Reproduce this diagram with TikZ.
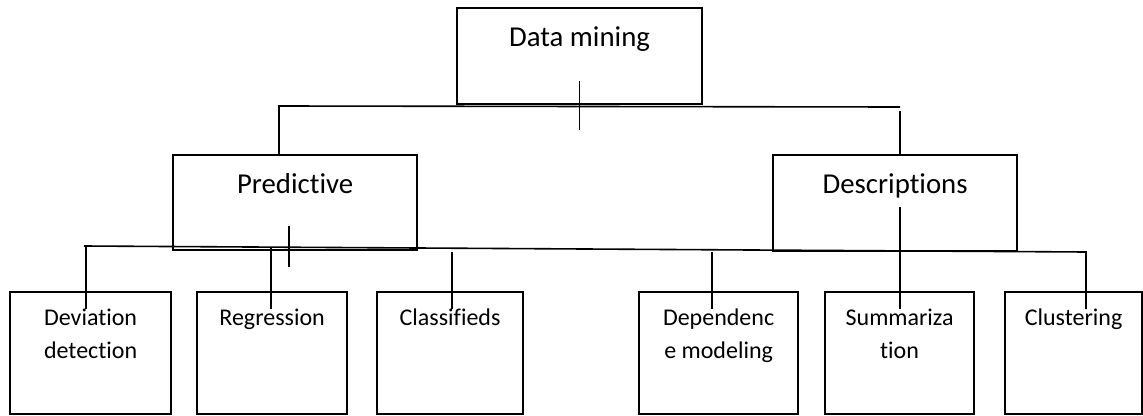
\documentclass[tikz,border=0pt]{standalone}
\usepackage{fontspec}
\setmainfont{Carlito}[Ligatures=NoCommon]
\usetikzlibrary{positioning, calc}
\tikzset{
  box/.style={draw=black, line width=2.2pt, inner sep=0pt, anchor=north west},
  leafbox/.style={box, minimum height=122pt},
  lbl/.style={font=\fontsize{28.8}{34}\selectfont, inner sep=0pt, anchor=base},
  leaflbl/.style={font=\fontsize{24}{33}\selectfont, align=center, inner sep=0pt, anchor=north},
  link/.style={line width=1.6pt, draw=black},
}

\begin{document}
\begin{tikzpicture}[x=1pt, y=-1pt]
  \useasboundingbox[fill=white] (0,0) rectangle (1143,415);

  % Boxes
  \node[box, minimum width=245pt, minimum height=96pt] (dm) at (456,7) {};
  \node[box, minimum width=244pt, minimum height=95pt] (pr) at (172,154) {};
  \node[box, minimum width=244pt, minimum height=96pt] (ds) at (772,154) {};
  \node[leafbox, minimum width=161pt] (dev) at (9,291) {};
  \node[leafbox, minimum width=150pt] (reg) at (196,291) {};
  \node[leafbox, minimum width=146pt] (cls) at (376,291) {};
  \node[leafbox, minimum width=159pt] (dep) at (638,291) {};
  \node[leafbox, minimum width=149pt] (sum) at (824,291) {};
  \node[leafbox, minimum width=137pt] (clu) at (1004,291) {};

  % Labels
  \node[lbl] (dmt) at ($(dm.north)+(0,39)$) {Data mining};
  \node[lbl] (prt) at ($(pr.north)+(0,39)$) {Predictive};
  \node[lbl] (dst) at ($(ds.north)+(0,39)$) {Descriptions};
  \node[leaflbl] (devt) at ($(dev.north)+(0,18)$) {Deviation\\detection};
  \node[leaflbl] (regt) at ($(reg.north)+(0,18)$) {Regression};
  \node[leaflbl] (clst) at ($(cls.north)+(0,18)$) {Classifieds};
  \node[leaflbl] (dept) at ($(dep.north)+(0,18)$) {Dependenc\\e modeling};
  \node[leaflbl] (sumt) at ($(sum.north)+(0,18)$) {Summariza\\tion};
  \node[leaflbl] (clut) at ($(clu.north)+(0,18)$) {Clustering};

  % Upper tree
  \coordinate (barL) at (279,106);
  \coordinate (barR) at (900,107);
  \draw[link] ($(dm.south)+(0,-24)$) -- ($(dm.south)+(0,25)$);
  \draw[link] (pr.north -| barL) -- (barL) -- (barR);
  \draw[link] ($(barR)+(0,4)$) -- (ds.north -| barR);

  % Lower tree
  \coordinate (lowL) at (84,246);
  \coordinate (lowR) at (1086,252);
  \coordinate (prstem) at (289,226);
  \coordinate (dsstem) at (900,207);
  \coordinate (devtop) at (86,246);
  \coordinate (regtop) at (271,248);
  \coordinate (clstop) at (452,252);
  \coordinate (deptop) at (712,252);
  \draw[link] (prstem) -- ++(0,41);
  \draw[link] (lowL) -- (lowR) -- (lowR |- clut.north);
  \draw[link] (devtop) -- (devtop |- devt.north);
  \draw[link] (regtop) -- (regtop |- regt.north);
  \draw[link] (clstop) -- (clstop |- clst.north);
  \draw[link] (deptop) -- (deptop |- dept.north);
  \draw[link] (dsstem) -- (dsstem |- sumt.north);
\end{tikzpicture}
\end{document}
